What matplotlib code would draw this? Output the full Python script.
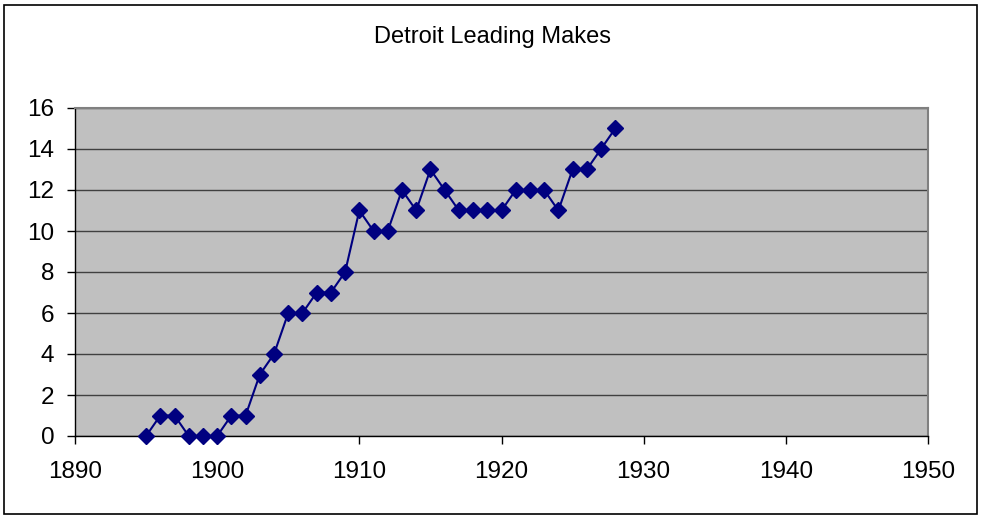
import matplotlib.pyplot as plt
from matplotlib.patches import Rectangle

years = [1895, 1896, 1897, 1898, 1899, 1900, 1901, 1902, 1903, 1904, 1905, 1906,
         1907, 1908, 1909, 1910, 1911, 1912, 1913, 1914, 1915, 1916, 1917, 1918,
         1919, 1920, 1921, 1922, 1923, 1924, 1925, 1926, 1927, 1928]
makes = [0, 1, 1, 0, 0, 0, 1, 1, 3, 4, 6, 6,
         7, 7, 8, 11, 10, 10, 12, 11, 13, 12, 11, 11,
         11, 11, 12, 12, 12, 11, 13, 13, 14, 15]
x_ticks = [1890, 1900, 1910, 1920, 1930, 1940, 1950]
y_ticks = [0, 2, 4, 6, 8, 10, 12, 14, 16]

plt.rcParams['font.family'] = ['Liberation Sans', 'DejaVu Sans']

fig = plt.figure(figsize=(9.81, 5.16), dpi=100)
# outer frame of the chart
fig.patches.append(Rectangle((4 / 981, 2 / 516), 973 / 981, 509 / 516,
                             transform=fig.transFigure, fill=False,
                             edgecolor='black', linewidth=1.2))

ax = fig.add_axes([75 / 981, 80 / 516, 853 / 981, 328 / 516])
ax.set_facecolor('#c0c0c0')
ax.plot(years, makes, color='#000080', marker='D', markersize=8, linewidth=1.5,
        clip_on=False, zorder=3)

ax.set_xlim(1890, 1950)
ax.set_ylim(0, 16)
ax.set_xticks(x_ticks)
ax.set_yticks(y_ticks)
ax.yaxis.grid(True, color='#404040', linewidth=1)
ax.set_axisbelow(True)

for side in ['top', 'right']:
    ax.spines[side].set_color('#808080')
    ax.spines[side].set_linewidth(1.5)
for side in ['left', 'bottom']:
    ax.spines[side].set_color('black')
    ax.spines[side].set_linewidth(1)

ax.tick_params(axis='both', labelsize=17.5, length=6, width=1, color='black')
ax.tick_params(axis='x', pad=12)
ax.tick_params(axis='y', pad=9)

fig.text(493 / 981, 1 - 37 / 516, 'Detroit Leading Makes', ha='center', va='center',
         fontsize=17)

plt.savefig('out.png', dpi=100)
